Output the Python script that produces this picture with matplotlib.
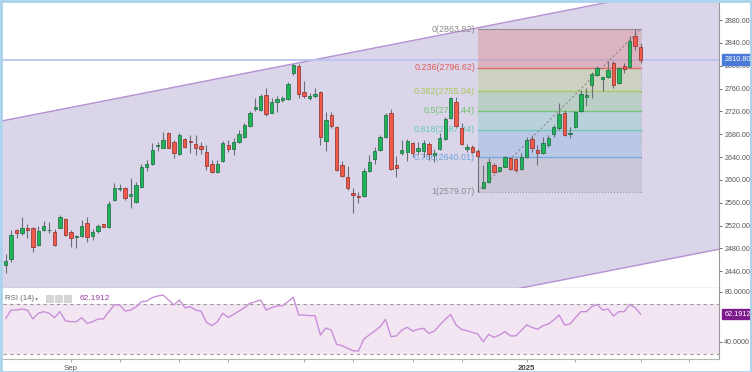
import matplotlib
matplotlib.use("Agg")
import matplotlib.pyplot as plt
from matplotlib.patches import Rectangle
import numpy as np

plt.rcParams['font.family'] = ['Liberation Sans', 'DejaVu Sans']

# ---------------- data ----------------
opens = [2451.4, 2461.4, 2512.2, 2507.5, 2516.2, 2515.2, 2485.4, 2512.2, 2511.5, 2509.2,
         2516.2, 2530.9, 2508.7, 2500.0, 2501.7, 2523.9, 2502.2, 2510.4, 2522.2, 2516.9,
         2564.8, 2584.4, 2585.2, 2572.3, 2561.8, 2588.1, 2622.6, 2627.8, 2658.8, 2656.4,
         2682.6, 2666.9, 2644.8, 2671.6, 2668.1, 2662.3, 2659.9, 2649.4, 2627.8, 2614.4,
         2633.1, 2661.1, 2653.6, 2665.8, 2675.6, 2694.9, 2724.2, 2722.4, 2748.7, 2717.7,
         2735.9, 2740.0, 2741.7, 2786.7, 2799.5, 2754.5, 2742.9, 2746.4, 2753.4, 2668.1,
         2713.7, 2693.2, 2626.1, 2604.5, 2577.5, 2571.8, 2571.8, 2616.1, 2636.0, 2652.4,
         2674.6, 2716.6, 2626.1, 2646.6, 2649.4, 2664.1, 2651.1, 2651.1, 2662.3, 2643.1,
         2653.6, 2671.1, 2707.9, 2736.9, 2690.4, 2654.6, 2657.1, 2651.1, 2585.2, 2596.8,
         2626.1, 2615.5, 2623.1, 2638.8, 2636.0, 2619.1, 2640.6, 2671.1, 2652.4, 2646.6,
         2661.1, 2679.8, 2690.4, 2716.6, 2680.4, 2693.2, 2721.2, 2745.7, 2766.2, 2783.8,
         2777.3, 2779.7, 2805.3, 2770.3, 2799.5, 2797.3, 2852.1, 2833.3]
highs = [2470.1, 2512.2, 2513.9, 2535.5, 2522.7, 2517.4, 2519.2, 2527.9, 2526.7, 2513.9,
         2538.5, 2532.7, 2512.2, 2503.0, 2529.7, 2535.5, 2513.4, 2522.7, 2522.7, 2563.5,
         2594.0, 2592.2, 2588.1, 2602.8, 2596.8, 2627.3, 2634.8, 2664.1, 2666.9, 2684.4,
         2684.4, 2669.9, 2681.6, 2672.9, 2678.6, 2678.6, 2666.9, 2661.1, 2634.8, 2634.8,
         2668.1, 2669.9, 2672.9, 2687.4, 2699.1, 2720.7, 2744.0, 2749.9, 2760.5, 2742.9,
         2747.5, 2747.5, 2772.0, 2802.5, 2802.5, 2773.2, 2751.7, 2760.5, 2755.7, 2718.4,
         2718.4, 2694.4, 2633.6, 2624.3, 2585.2, 2579.3, 2620.3, 2643.6, 2658.1, 2678.6,
         2716.6, 2723.6, 2641.8, 2669.9, 2671.1, 2666.9, 2666.9, 2669.9, 2666.9, 2653.6,
         2681.6, 2710.7, 2745.7, 2745.7, 2700.2, 2662.8, 2661.1, 2653.6, 2626.1, 2637.8,
         2629.0, 2623.1, 2641.8, 2640.6, 2637.8, 2646.6, 2675.6, 2678.6, 2661.1, 2675.6,
         2678.6, 2696.2, 2735.2, 2722.4, 2693.2, 2721.2, 2757.5, 2760.5, 2789.5, 2799.5,
         2779.7, 2808.8, 2808.8, 2798.3, 2804.2, 2852.1, 2863.8, 2840.3]
lows = [2437.4, 2456.6, 2498.2, 2503.4, 2498.2, 2474.2, 2484.2, 2510.4, 2506.4, 2484.2,
        2515.2, 2501.7, 2481.9, 2480.1, 2500.5, 2491.7, 2494.1, 2506.4, 2516.9, 2515.2,
        2563.5, 2580.5, 2564.8, 2550.2, 2558.9, 2585.2, 2615.5, 2626.1, 2650.6, 2655.3,
        2655.3, 2637.8, 2643.6, 2655.3, 2646.6, 2643.6, 2644.8, 2617.3, 2611.5, 2611.5,
        2631.9, 2649.4, 2643.6, 2664.1, 2673.9, 2693.2, 2721.2, 2720.7, 2712.4, 2716.6,
        2718.4, 2736.9, 2740.0, 2783.8, 2742.9, 2742.9, 2740.0, 2744.0, 2661.1, 2650.6,
        2691.4, 2616.1, 2604.5, 2582.3, 2542.5, 2560.0, 2570.5, 2614.3, 2627.8, 2651.1,
        2672.9, 2617.3, 2605.6, 2643.6, 2633.6, 2640.6, 2644.8, 2640.6, 2634.8, 2631.9,
        2652.4, 2669.9, 2706.1, 2692.1, 2661.1, 2649.4, 2646.6, 2579.1, 2583.5, 2594.0,
        2611.5, 2614.3, 2622.0, 2617.3, 2614.3, 2617.3, 2637.8, 2649.4, 2626.1, 2645.3,
        2658.1, 2675.6, 2687.4, 2676.8, 2672.9, 2690.4, 2719.4, 2729.4, 2742.9, 2782.0,
        2756.2, 2778.0, 2760.4, 2768.0, 2786.7, 2795.5, 2827.5, 2804.2]
closes = [2458.4, 2503.4, 2506.4, 2515.2, 2512.2, 2481.9, 2511.0, 2519.2, 2512.5, 2485.9,
          2535.5, 2503.4, 2498.7, 2501.0, 2519.2, 2500.5, 2509.2, 2518.7, 2518.0, 2557.2,
          2586.3, 2585.2, 2567.7, 2575.8, 2591.0, 2623.1, 2628.4, 2652.4, 2661.1, 2669.9,
          2656.4, 2647.6, 2678.6, 2658.1, 2666.4, 2656.4, 2654.1, 2624.3, 2613.3, 2627.8,
          2665.1, 2653.6, 2666.9, 2679.8, 2696.2, 2717.7, 2727.2, 2747.5, 2715.9, 2736.9,
          2742.2, 2744.0, 2768.5, 2801.3, 2749.9, 2747.5, 2747.0, 2749.9, 2675.6, 2704.9,
          2694.4, 2617.3, 2606.8, 2586.3, 2573.0, 2569.5, 2616.1, 2630.8, 2651.1, 2675.6,
          2713.7, 2618.5, 2621.3, 2652.4, 2668.6, 2646.6, 2656.4, 2665.1, 2644.8, 2647.6,
          2673.9, 2706.1, 2742.9, 2694.4, 2662.8, 2657.1, 2649.4, 2641.8, 2596.8, 2631.8,
          2614.3, 2622.0, 2640.6, 2618.5, 2617.3, 2640.6, 2669.9, 2655.3, 2646.6, 2665.1,
          2672.9, 2692.1, 2715.4, 2678.6, 2682.6, 2718.4, 2750.4, 2748.7, 2785.5, 2795.5,
          2779.7, 2792.5, 2766.2, 2795.5, 2793.7, 2843.8, 2834.6, 2810.8]
rsi = [58.7, 65.4, 65.4, 66.2, 65.4, 58.2, 62.8, 64.1, 62.8, 59.3,
       64.1, 56.8, 56.0, 56.0, 59.3, 54.7, 56.0, 58.2, 58.2, 64.1,
       69.5, 69.5, 64.6, 65.4, 67.9, 72.1, 72.7, 75.4, 76.7, 77.5,
       73.5, 69.5, 73.5, 67.3, 68.1, 65.4, 64.6, 55.5, 52.8, 56.0,
       62.8, 59.5, 61.9, 64.6, 67.3, 70.8, 72.1, 73.5, 65.4, 67.3,
       68.7, 68.9, 72.1, 75.6, 61.4, 61.4, 60.9, 60.9, 45.3, 51.0,
       49.3, 37.8, 36.7, 34.6, 32.7, 32.4, 42.1, 45.3, 48.5, 52.0,
       57.9, 44.0, 44.6, 49.3, 51.5, 48.5, 49.9, 50.7, 46.6, 48.5,
       53.4, 57.9, 61.9, 53.4, 49.9, 48.8, 47.4, 46.1, 39.9, 45.8,
       43.4, 45.3, 48.0, 44.6, 44.6, 48.8, 53.4, 51.5, 49.9, 52.8,
       54.2, 57.4, 61.4, 53.4, 54.2, 59.3, 64.1, 64.1, 68.1, 70.0,
       65.4, 66.2, 60.6, 64.1, 64.1, 70.0, 67.3, 62.1912]

price_ticks = [2440, 2480, 2520, 2560, 2600, 2640, 2680, 2720, 2760, 2800, 2840, 2880]
last_price = 2810.80
last_rsi = 62.1912
rsi_ticks = [40, 80]
rsi_bands = [30, 70]

fib_start_bar = 87
fib_end_bar = 117
fib_levels = ['0', '0.236', '0.382', '0.5', '0.618', '0.786', '1']
fib_prices = [2863.82, 2796.62, 2755.04, 2721.44, 2687.84, 2640.01, 2579.07]
fib_colors = ['#8a8a8a', '#de5d5a', '#a6c85a', '#6cc26c', '#62c7b6', '#6aa4dc', '#8a8a8a']

channel_bars = [0, 100]
channel_upper = [2704.6, 2890.7]
channel_width = 470.8

date_tick_bars = [12, 21, 32, 41, 55, 64, 75, 84, 96, 105, 117, 126]
date_labels = {12: 'Sep', 96: '2025'}

# ---------------- figure ----------------
W, H = 752, 372
fig = plt.figure(figsize=(W / 100, H / 100), dpi=100)
fig.patch.set_facecolor('white')

L, R = 3, 718.7
T1, B1 = 3, 287.7
B2 = 359
ax = fig.add_axes([L / W, 1 - B1 / H, (R - L) / W, (B1 - T1) / H])
axr = fig.add_axes([L / W, 1 - B2 / H, (R - L) / W, (B2 - B1) / H], sharex=ax)

n = len(closes)
idx = np.arange(n)
xlim = (-0.5, 131.4)
ax.set_xlim(*xlim)
ax.set_ylim(2411.1, 2909.9)
axr.set_ylim(26.0, 83.4)

# channel
xs = np.linspace(xlim[0] - 2, xlim[1] + 2, 50)
slope = (channel_upper[1] - channel_upper[0]) / (channel_bars[1] - channel_bars[0])
up = channel_upper[0] + slope * (xs - channel_bars[0])
lo = up - channel_width
ax.fill_between(xs, lo, up, color='#dbd5ea', lw=0, zorder=0)
ax.plot(xs, up, color='#b690d2', lw=1.0, zorder=1)
ax.plot(xs, lo, color='#b690d2', lw=1.0, zorder=1)

# current price line
ax.axhline(last_price, color='#b9c3f0', lw=1.3, zorder=1.5)

# fib
for k in range(len(fib_levels) - 1):
    ax.fill_between([fib_start_bar, fib_end_bar], fib_prices[k + 1], fib_prices[k],
                    color=fib_colors[k + 1], alpha=0.28 if k < 5 else 0.18, lw=0, zorder=2)
for k, (l, p) in enumerate(zip(fib_levels, fib_prices)):
    edge = l in ('0', '1')
    ls = ':' if l == '1' else '-'
    ax.plot([fib_start_bar, fib_end_bar], [p, p], color=fib_colors[k], lw=0.8 if edge else 1.0,
            ls=ls, alpha=0.85, zorder=2.5)
    ax.annotate(f"{l}({p:.2f})", xy=(fib_start_bar, p), xytext=(-2, 0), textcoords='offset points',
                ha='right', va='center', fontsize=6.4, color=fib_colors[k], zorder=2.6)
ax.plot([fib_end_bar, fib_end_bar], [fib_prices[-1], fib_prices[0]], color='#999999', lw=0.6, ls=':', zorder=2.5)
ax.plot([fib_start_bar, fib_end_bar], [fib_prices[-1], fib_prices[0]], color='#8c8c8c', lw=0.8,
        ls=(0, (2, 2)), zorder=2.5)

# candles
up_c, up_e = '#1fb45a', '#17693a'
dn_c, dn_e = '#ef5a4a', '#8e2a22'
ax.vlines(idx, lows, highs, color='#6a6e76', lw=0.8, zorder=3)
for i in range(n):
    o, c = opens[i], closes[i]
    bull = c >= o
    b = min(o, c)
    h = max(abs(c - o), 1.0)
    ax.bar(i, h, bottom=b, width=0.62, color=up_c if bull else dn_c,
           edgecolor=up_e if bull else dn_e, linewidth=0.5, zorder=4)

# price axis
ax.yaxis.tick_right()
ax.set_yticks(price_ticks)
ax.set_yticklabels([f"{v:.2f}" for v in price_ticks])
ax.tick_params(axis='y', labelsize=5.1, colors='#555555', length=2.5, width=0.6, pad=1.5)
ax.tick_params(axis='x', bottom=False, labelbottom=False)
for s in ['top', 'left']:
    ax.spines[s].set_visible(False)
ax.spines['right'].set_color('#999999')
ax.spines['right'].set_linewidth(0.8)
ax.spines['bottom'].set_color('#9a9a9a')
ax.spines['bottom'].set_linewidth(0.9)

ax.annotate(f"{last_price:.2f}", xy=(1.0, last_price), xycoords=('axes fraction', 'data'),
            xytext=(4, 0), textcoords='offset points', ha='left', va='center',
            fontsize=5.2, color='white',
            bbox=dict(boxstyle='square,pad=0.25', fc='#4a7ad6', ec='#4a7ad6'), zorder=10,
            annotation_clip=False)

# ---------------- RSI ----------------
axr.axhspan(rsi_bands[0], rsi_bands[1], color='#f3e6f3', lw=0, zorder=0)
for v in rsi_bands:
    axr.axhline(v, color='#9a9a9a', lw=0.8, ls=(0, (3, 3)), zorder=1)
axr.plot(idx, rsi, color='#c88fd8', lw=1.0, zorder=3)
axr.yaxis.tick_right()
axr.set_yticks(rsi_ticks)
axr.set_yticklabels([f"{v:.4f}" for v in rsi_ticks])
axr.tick_params(axis='y', labelsize=5.1, colors='#555555', length=2.5, width=0.6, pad=1.5)
axr.set_xticks(date_tick_bars)
axr.set_xticklabels([date_labels.get(b, '') for b in date_tick_bars])
axr.tick_params(axis='x', labelsize=5.6, colors='#999999', labelcolor='#555555', length=2, width=0.6, pad=2.5)
for lbl in axr.get_xticklabels():
    if lbl.get_text() == '2025':
        lbl.set_fontweight('bold')
        lbl.set_color('#444444')
axr.spines['top'].set_visible(False)
axr.spines['left'].set_visible(False)
axr.spines['right'].set_color('#999999')
axr.spines['right'].set_linewidth(0.8)
axr.spines['bottom'].set_color('#b5b5b5')
axr.spines['bottom'].set_linewidth(0.8)

axr.annotate(f"{last_rsi:.4f}", xy=(1.0, last_rsi), xycoords=('axes fraction', 'data'),
             xytext=(4, 0), textcoords='offset points', ha='left', va='center',
             fontsize=5.2, color='white',
             bbox=dict(boxstyle='square,pad=0.25', fc='#7d1a8c', ec='#7d1a8c'), zorder=10,
             annotation_clip=False)

def fx(px):
    return px / W

def fy(py):
    return 1 - py / H

fig.text(fx(5), fy(298.5), 'RSI (14)', fontsize=5.6, color='#666666', va='center', ha='left')
fig.text(fx(35), fy(298.5), '▾', fontsize=4.5, color='#999999', va='center', ha='left',
         family='DejaVu Sans')
for x0 in [46, 55, 64]:
    fig.add_artist(Rectangle((fx(x0), fy(302)), 7 / W, 7 / H, transform=fig.transFigure,
                             fc='#d6d6d6', ec='#c4c4c4', lw=0.4))
fig.text(fx(80), fy(298.5), f"{last_rsi:.4f}", fontsize=6.0, color='#9a3aa6', va='center', ha='left')

fig.add_artist(Rectangle((0.5 / W, 0.5 / H), 1 - 1.5 / W, 1 - 1.5 / H, transform=fig.transFigure,
                         fill=False, ec='#a8d2ec', lw=2.0))

fig.savefig('out.png', dpi=100, facecolor='white')
